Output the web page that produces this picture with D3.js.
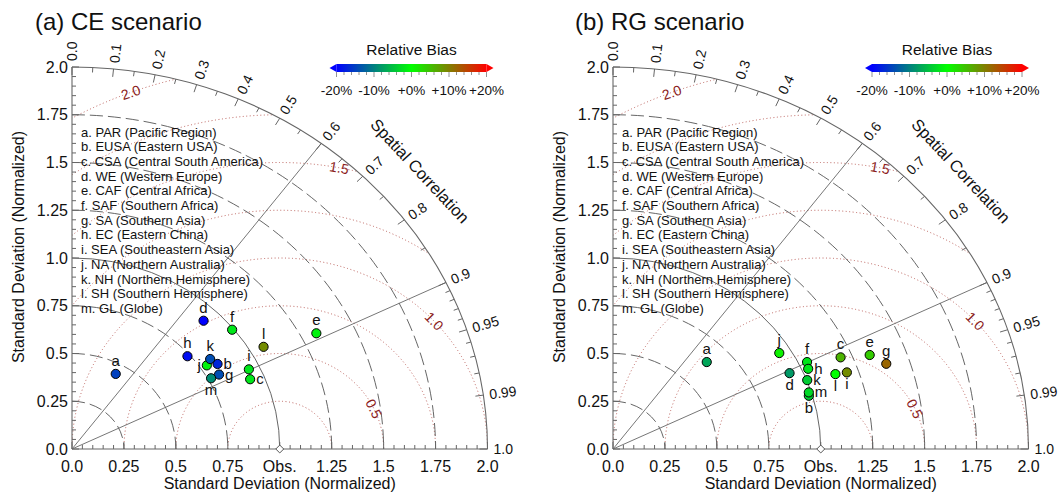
<!DOCTYPE html>
<html>
<head>
<meta charset="utf-8">
<script src="https://cdn.jsdelivr.net/npm/d3@7"></script>
<style>
  body { margin: 0; background: #fff; }
  svg text { font-family: "Liberation Sans", Arial, Helvetica, sans-serif; fill: #111; }
</style>
</head>
<body>
<svg id="fig" width="1059" height="492"></svg>
<script>
// region names and point ids
var pointIds = ["a", "b", "c", "d", "e", "f", "g", "h", "i", "j", "k", "l", "m"];
var regionNames = [
  "a. PAR (Pacific Region)", "b. EUSA (Eastern USA)", "c. CSA (Central South America)",
  "d. WE (Western Europe)", "e. CAF (Central Africa)", "f. SAF (Southern Africa)",
  "g. SA (Southern Asia)", "h. EC (Eastern China)", "i. SEA (Southeastern Asia)",
  "j. NA (Northern Australia)", "k. NH (Northern Hemisphere)", "l. SH (Southern Hemisphere)",
  "m. GL (Globe)"
];

// (a) CE scenario
var ceStd  = [0.446, 0.830, 0.932, 0.923, 1.323, 0.992, 0.808, 0.738, 0.948, 0.783, 0.815, 1.066, 0.765];
var ceCorr = [0.472, 0.844, 0.920, 0.686, 0.889, 0.777, 0.876, 0.753, 0.898, 0.829, 0.816, 0.865, 0.875];
var ceBias = [-15, -17, -2, -20, -1, -2, -14, -19, -2, -1, -14, 9, -9];

// (b) RG scenario
var rgStd  = [0.641, 0.983, 1.196, 0.938, 1.330, 1.039, 1.389, 1.029, 1.195, 0.945, 1.002, 1.140, 0.988];
var rgCorr = [0.704, 0.959, 0.916, 0.906, 0.929, 0.899, 0.947, 0.913, 0.942, 0.847, 0.933, 0.939, 0.954];
var rgBias = [-7, -4, 6, -8, 4, -2, 12, -2, 9, 1, -4, 0, -3];

// axis ticks
var stdTicks = [0, 0.25, 0.5, 0.75, 1.0, 1.25, 1.5, 1.75, 2.0];
var stdTickLabels = ["0.0", "0.25", "0.5", "0.75", "Obs.", "1.25", "1.5", "1.75", "2.0"];
var yTickLabels = ["0.0", "0.25", "0.5", "0.75", "1.0", "1.25", "1.5", "1.75", "2.0"];
var corrTicks = [0, 0.1, 0.2, 0.3, 0.4, 0.5, 0.6, 0.7, 0.8, 0.9, 0.95, 0.99, 1.0];
var corrTickLabels = ["0.0", "0.1", "0.2", "0.3", "0.4", "0.5", "0.6", "0.7", "0.8", "0.9", "0.95", "0.99", "1.0"];
var corrMinor = [0.05, 0.15, 0.25, 0.35, 0.45, 0.55, 0.65, 0.75, 0.85, 0.91, 0.92, 0.93, 0.94, 0.96, 0.97, 0.98];
var stdArcs = [0.25, 0.5, 0.75, 1.25, 1.5, 1.75];
var rmsCircles = [0.25, 0.5, 0.75, 1.0, 1.25, 1.5, 1.75, 2.0];
var rmsLabels = [0.5, 1.0, 1.5, 2.0];
var rmsLabelText = ["0.5", "1.0", "1.5", "2.0"];
var biasTicks = [-20, -10, 0, 10, 20];
var biasTickLabels = ["-20%", "-10%", "+0%", "+10%", "+20%"];

// label placement around each point (n, e, s, w)
var ceSides = ["n", "e", "e", "n", "n", "n", "e", "n", "n", "w", "n", "n", "s"];
var rgSides = ["n", "s", "n", "s", "n", "n", "n", "e", "s", "n", "e", "s", "e"];
var rmsAngles = [25, 42, 79, 111];

var biasColor = d3.scaleLinear()
  .domain([-20, 0, 20])
  .range(["#0000ff", "#00ff00", "#ff0000"])
  .interpolate(d3.interpolateRgb)
  .clamp(true);

var svg = d3.select("#fig");

var drawPanel = function(opt) {
  var x = d3.scaleLinear().domain([0, 2]).range([opt.ox, opt.ox + 415.5]);
  var y = d3.scaleLinear().domain([0, 2]).range([449, 67]);
  var g = svg.append("g").attr("id", "panel-" + opt.id);

  var pt = function(r, th) { return [x(r * Math.cos(th)), y(r * Math.sin(th))]; };
  var rx = function(r) { return x(r) - x(0); };
  var ry = function(r) { return y(0) - y(r); };

  // clip to the quarter disc
  g.append("clipPath").attr("id", "clip-" + opt.id)
    .append("path")
    .attr("d", "M" + x(0) + "," + y(0) + "L" + x(2) + "," + y(0) +
      "A" + rx(2) + "," + ry(2) + " 0 0 0 " + x(0) + "," + y(2) + "Z");

  // RMSD circles
  g.append("g").attr("clip-path", "url(#clip-" + opt.id + ")")
    .selectAll("path").data(rmsCircles).enter().append("path")
    .attr("d", function(r) {
      return "M" + x(1 - r) + "," + y(0) + "A" + rx(r) + "," + ry(r) + " 0 0 1 " + x(1 + r) + "," + y(0);
    })
    .attr("fill", "none")
    .attr("stroke", "#b5544e")
    .attr("stroke-width", 0.9)
    .attr("stroke-dasharray", "1,2.5");

  // std dev arcs
  g.selectAll("path.std").data(stdArcs).enter().append("path")
    .attr("class", "std")
    .attr("d", function(r) {
      return "M" + x(0) + "," + y(r) + "A" + rx(r) + "," + ry(r) + " 0 0 1 " + x(r) + "," + y(0);
    })
    .attr("fill", "none")
    .attr("stroke", "#555")
    .attr("stroke-width", 0.9)
    .attr("stroke-dasharray", "13,5");

  // obs arc and outer arc
  [1, 2].forEach(function(r) {
    g.append("path")
      .attr("d", "M" + x(0) + "," + y(r) + "A" + rx(r) + "," + ry(r) + " 0 0 1 " + x(r) + "," + y(0))
      .attr("fill", "none")
      .attr("stroke", r == 2 ? "#666" : "#555")
      .attr("stroke-width", r == 2 ? 1.1 : 0.9);
  });

  // radial lines at r = 0.6 and 0.9
  [0.6, 0.9].forEach(function(c) {
    var p = pt(2, Math.acos(c));
    g.append("line")
      .attr("x1", x(0)).attr("y1", y(0)).attr("x2", p[0]).attr("y2", p[1])
      .attr("stroke", "#666").attr("stroke-width", 0.9);
  });

  // axes
  g.append("line").attr("x1", x(0)).attr("x2", x(2)).attr("y1", y(0)).attr("y2", y(0))
    .attr("stroke", "#666").attr("stroke-width", 1.1);
  g.append("line").attr("x1", x(0)).attr("x2", x(0)).attr("y1", y(0)).attr("y2", y(2))
    .attr("stroke", "#666").attr("stroke-width", 1.1);

  var minor = d3.range(0, 2.0001, 0.05);
  var isMajor = function(v) { return Math.abs(v / 0.25 - Math.round(v / 0.25)) < 1e-6; };
  g.selectAll("line.xt").data(minor).enter().append("line")
    .attr("x1", function(v) { return x(v); }).attr("x2", function(v) { return x(v); })
    .attr("y1", y(0)).attr("y2", function(v) { return y(0) - (isMajor(v) ? 7 : 4); })
    .attr("stroke", "#666");
  g.selectAll("line.yt").data(minor).enter().append("line")
    .attr("y1", function(v) { return y(v); }).attr("y2", function(v) { return y(v); })
    .attr("x1", x(0)).attr("x2", function(v) { return x(0) + (isMajor(v) ? 7 : 4); })
    .attr("stroke", "#666");

  // tick labels
  g.selectAll("text.xl").data(stdTicks).enter().append("text")
    .attr("x", function(v) { return x(v); })
    .attr("y", y(0) + 23)
    .attr("text-anchor", "middle")
    .style("font-size", "16px")
    .text(function(v, i) { return stdTickLabels[i]; });
  g.selectAll("text.yl").data(stdTicks).enter().append("text")
    .attr("x", x(0) - 4)
    .attr("y", function(v) { return y(v); })
    .attr("dy", "0.35em")
    .attr("text-anchor", "end")
    .style("font-size", "16px")
    .text(function(v, i) { return yTickLabels[i]; });

  // obs marker
  g.append("path")
    .attr("d", d3.symbol().type(d3.symbolDiamond2).size(40)())
    .attr("transform", "translate(" + x(1) + "," + y(0) + ")")
    .attr("fill", "#fff").attr("stroke", "#555").attr("stroke-width", 1);

  // correlation ticks and labels
  var corrTick = function(c, len) {
    var p = pt(2, Math.acos(c));
    var dx = p[0] - x(0), dy = p[1] - y(0);
    var n = Math.sqrt(dx * dx + dy * dy);
    return { p: p, ux: dx / n, uy: dy / n };
  };
  corrTicks.concat(corrMinor).forEach(function(c) {
    var t = corrTick(c);
    var len = corrTicks.indexOf(c) >= 0 ? 8 : 5;
    g.append("line")
      .attr("x1", t.p[0]).attr("y1", t.p[1])
      .attr("x2", t.p[0] - t.ux * len).attr("y2", t.p[1] - t.uy * len)
      .attr("stroke", "#666");
  });
  corrTicks.forEach(function(c, i) {
    var t = corrTick(c);
    var ang = Math.atan2(t.uy, t.ux) * 180 / Math.PI;
    g.append("text")
      .attr("transform", "translate(" + (t.p[0] + t.ux * 6) + "," + (t.p[1] + t.uy * 6) + ") rotate(" + ang + ")")
      .attr("dominant-baseline", "central")
      .style("font-size", "14px")
      .text(corrTickLabels[i]);
  });

  // RMSD labels
  rmsLabels.forEach(function(r, i) {
    var phi = rmsAngles[i] * Math.PI / 180;
    var ang = Math.atan2(Math.cos(phi) * ry(1), Math.sin(phi) * rx(1)) * 180 / Math.PI;
    g.append("text")
      .attr("transform", "translate(" + x(1 + r * Math.cos(phi)) + "," + y(r * Math.sin(phi)) + ") rotate(" + ang + ")")
      .attr("text-anchor", "middle")
      .attr("dominant-baseline", "central")
      .style("font-size", "14px")
      .style("fill", "#8b1c1c")
      .text(rmsLabelText[i]);
  });

  // axis titles
  var sc = pt(2.22, 41 * Math.PI / 180);
  g.append("text")
    .attr("transform", "translate(" + sc[0] + "," + sc[1] + ") rotate(47)")
    .attr("text-anchor", "middle")
    .attr("dominant-baseline", "central")
    .style("font-size", "16.5px")
    .text("Spatial Correlation");
  g.append("text")
    .attr("x", x(1)).attr("y", y(0) + 40)
    .attr("text-anchor", "middle")
    .style("font-size", "16px")
    .text("Standard Deviation (Normalized)");
  g.append("text")
    .attr("transform", "translate(" + (x(0) - 54) + ",247) rotate(-90)")
    .attr("text-anchor", "middle")
    .attr("dominant-baseline", "central")
    .style("font-size", "16px")
    .text("Standard Deviation (Normalized)");

  // region legend
  g.selectAll("text.leg").data(regionNames).enter().append("text")
    .attr("x", x(0) + 9)
    .attr("y", function(d, i) { return 132 + i * 14.7; })
    .attr("dominant-baseline", "central")
    .style("font-size", "13px")
    .text(function(d) { return d; });

  // points
  var pts = pointIds.map(function(id, i) {
    var th = Math.acos(opt.corr[i]);
    var p = pt(opt.std[i], th);
    return { id: id, px: p[0], py: p[1], bias: opt.bias[i], side: opt.sides[i] };
  });
  g.selectAll("circle.pt").data(pts).enter().append("circle")
    .attr("cx", function(d) { return d.px; })
    .attr("cy", function(d) { return d.py; })
    .attr("r", 4.6)
    .attr("fill", function(d) { return biasColor(d.bias); })
    .attr("stroke", "#000").attr("stroke-width", 1);
  g.selectAll("text.pl").data(pts).enter().append("text")
    .attr("x", function(d) { return d.px + (d.side == "e" ? 6 : d.side == "w" ? -6 : 0); })
    .attr("y", function(d) { return d.py + (d.side == "n" ? -8 : d.side == "s" ? 17 : 5); })
    .attr("text-anchor", function(d) { return d.side == "e" ? "start" : d.side == "w" ? "end" : "middle"; })
    .style("font-size", "15px")
    .text(function(d) { return d.id; });

  // colorbar
  var cb = d3.scaleLinear().domain([-20, 20]).range([opt.cbx - 75, opt.cbx + 75]);
  var grad = g.append("linearGradient").attr("id", "grad-" + opt.id)
    .attr("x1", "0%").attr("x2", "100%").attr("y1", "0%").attr("y2", "0%");
  biasTicks.forEach(function(b) {
    grad.append("stop")
      .attr("offset", ((b + 20) / 40 * 100) + "%")
      .attr("stop-color", biasColor(b));
  });
  g.append("rect")
    .attr("x", cb(-20)).attr("y", 64).attr("width", cb(20) - cb(-20)).attr("height", 8)
    .attr("fill", "url(#grad-" + opt.id + ")");
  g.append("path")
    .attr("d", "M" + cb(-20) + ",64L" + (cb(-20) - 7) + ",68L" + cb(-20) + ",72Z")
    .attr("fill", biasColor(-20));
  g.append("path")
    .attr("d", "M" + cb(20) + ",64L" + (cb(20) + 7) + ",68L" + cb(20) + ",72Z")
    .attr("fill", biasColor(20));
  g.selectAll("line.cbt").data(d3.range(-20, 20.001, 2)).enter().append("line")
    .attr("x1", function(b) { return cb(b); }).attr("x2", function(b) { return cb(b); })
    .attr("y1", 72).attr("y2", function(b) { return b % 10 == 0 ? 77 : 75; })
    .attr("stroke", "#777").attr("stroke-width", 0.8);
  g.selectAll("text.cbl").data(biasTicks).enter().append("text")
    .attr("x", function(b) { return cb(b); })
    .attr("y", 95)
    .attr("text-anchor", "middle")
    .style("font-size", "13.5px")
    .text(function(b, i) { return biasTickLabels[i]; });
  g.append("text")
    .attr("x", opt.cbx).attr("y", 55)
    .attr("text-anchor", "middle")
    .style("font-size", "15.5px")
    .text("Relative Bias");

  // panel title
  g.append("text")
    .attr("x", opt.tx).attr("y", 30)
    .style("font-size", "24px")
    .text(opt.title);
};

drawPanel({ id: "a", ox: 72, cbx: 411.5, tx: 35, title: "(a) CE scenario",
  std: ceStd, corr: ceCorr, bias: ceBias, sides: ceSides });
drawPanel({ id: "b", ox: 613, cbx: 947, tx: 575, title: "(b) RG scenario",
  std: rgStd, corr: rgCorr, bias: rgBias, sides: rgSides });
</script>
</body>
</html>
